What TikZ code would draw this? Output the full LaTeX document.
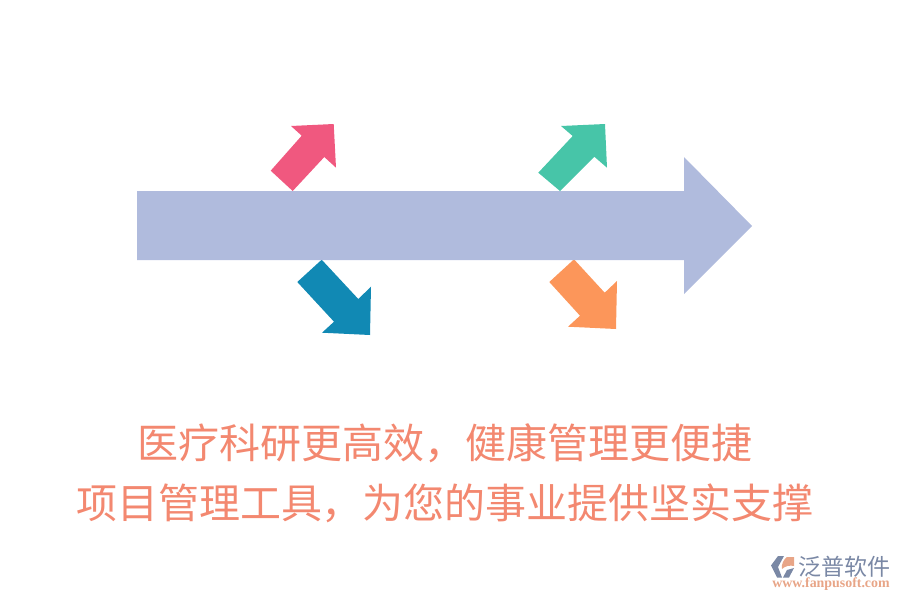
\documentclass[tikz,border=0pt]{standalone}
\usepackage{xcolor}
\usepackage{fontspec}
\usetikzlibrary{arrows.meta}
\newfontfamily\cjkfont{Noto Sans CJK SC}
\newfontfamily\urlfont{Liberation Serif}
\definecolor{mainblue}{RGB}{176,187,221}
\definecolor{pinkarrow}{RGB}{240,88,127}
\definecolor{tealarrow}{RGB}{17,137,180}
\definecolor{greenarrow}{RGB}{71,197,168}
\definecolor{orangearrow}{RGB}{252,150,90}
\definecolor{slogan}{RGB}{243,136,112}
\definecolor{logogray}{RGB}{122,136,165}
\definecolor{logoorange}{RGB}{232,165,135}
\tikzset{
    sloganline/.style={text=slogan, inner sep=0pt, font=\cjkfont\fontsize{41}{41}\selectfont},
    logoname/.style={text=logogray, inner sep=0pt, font=\cjkfont\fontsize{23}{23}\selectfont},
    logourl/.style={text=logoorange, inner sep=0pt, font=\urlfont\bfseries\fontsize{13.9}{14}\selectfont}
}

\begin{document}
\begin{tikzpicture}[x=1pt, y=-1pt]
    \useasboundingbox (0,0) rectangle (900,600);

    \fill[pinkarrow] (270.7,170.7) -- (301.7,135.7) -- (291,126) -- (333.7,124) -- (336,167.7) -- (324.3,157) -- (292.7,191) -- cycle;
    \fill[greenarrow] (538.3,172.7) -- (572.7,136) -- (561,126) -- (605,124) -- (607,167.7) -- (594.3,156.7) -- (560,191) -- cycle;
    \fill[tealarrow] (321.7,259.7) -- (358.3,299) -- (371,286.7) -- (370,335) -- (322,332.7) -- (334,321.7) -- (297.3,282) -- cycle;
    \fill[orangearrow] (574,259.3) -- (604.7,292.7) -- (617,281) -- (616,329) -- (568,326.7) -- (580,315.7) -- (549.3,282) -- cycle;

    \fill[mainblue] (137,191) -- (684,191) -- (684,157) -- (752,226) -- (684,294) -- (684,260) -- (137,260) -- cycle;

    \node[sloganline] (line1) at (445,443) {医疗科研更高效，健康管理更便捷};
    \node[sloganline] (line2) at (445,503) {项目管理工具，为您的事业提供坚实支撑};

    \fill[logogray] (771,565.5) -- (778,556) -- (784,556) -- (778,567) -- (782,577.5) -- (777,577.5) -- cycle;
    \fill[logoorange] (787,557) -- (794,557) -- (794,566) .. controls (790,565) and (785,566) .. (782,569) .. controls (781,564) and (784,559) .. (787,557) -- cycle;
    \fill[logogray] (794,568) -- (789,577.5) -- (783,577.5) -- (787,570) -- cycle;
    \node[logoname] (logotext) at (844,567) {泛普软件};
    \node[logourl] (logourl) at (831,584.5) {www.fanpusoft.com};
\end{tikzpicture}
\end{document}
